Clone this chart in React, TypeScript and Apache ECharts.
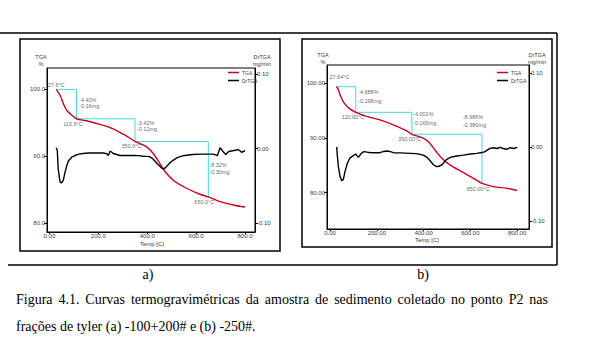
import React, { useEffect, useRef } from "react";
import * as echarts from "echarts";

// ---------- data: chart a) fraction -100+200# ----------
const tgaA: number[][] = [
  [27.6, 100.0], [43, 99.15], [56.5, 97.9], [70, 96.9], [91, 96.15], [110.9, 95.6],
  [152, 95.3], [207, 94.75], [261, 94.1], [316, 93.0], [350, 92.2], [398, 91.4],
  [425, 90.4], [452, 88.9], [473, 87.7], [507, 86.4], [561, 85.2], [616, 84.3],
  [650, 83.9], [698, 83.2], [752, 82.7], [800, 82.4],
];
const dtgA: number[][] = [
  [27, 0.001], [32, -0.002], [36, -0.028], [43, -0.044], [47, -0.046], [52, -0.045],
  [57, -0.042], [63, -0.033], [70, -0.024], [77, -0.017], [91, -0.0117], [104, -0.0094],
  [120, -0.0075], [138, -0.0067], [160, -0.006], [179, -0.0058], [200, -0.006], [220, -0.0058],
  [235, -0.007], [241, -0.0094], [248, -0.0036], [255, -0.005], [261, -0.0067], [275, -0.008],
  [288, -0.0094], [310, -0.0094], [343, -0.0094], [365, -0.0095], [384, -0.0103], [400, -0.0105],
  [411, -0.011], [422, -0.0135], [432, -0.017], [440, -0.02], [449, -0.0228], [458, -0.026],
  [466, -0.0273], [473, -0.026], [480, -0.0237], [493, -0.019], [507, -0.0157], [525, -0.012],
  [541, -0.0103], [560, -0.009], [588, -0.008], [615, -0.0075], [643, -0.0076], [670, -0.0076],
  [680, -0.0085], [687, -0.0094], [693, -0.004], [698, 0.001], [703, -0.001], [709, -0.0036],
  [716, -0.006], [722, -0.008], [730, -0.005], [738, -0.0036], [750, -0.003], [765, -0.002],
  [772, -0.0013], [779, -0.003], [786, -0.005], [793, -0.004], [800, -0.003],
];
const stepA: number[][] = [
  [27.6, 100.0], [110.9, 100.0], [110.9, 95.6], [350, 95.6], [350, 92.2], [650, 92.2], [650, 83.9],
];
const notesA: [number, number, string][] = [
  [27.6, 100.0, "27.6°C"],
  [110.9, 95.6, "110.9°C"],
  [350, 92.2, "350.0°C"],
  [650, 83.9, "650.0°C"],
  [110.9, 100.0, "-4.40%\n-0.16mg"],
  [350, 95.6, "-3.42%\n-0.12mg"],
  [650, 92.2, "-8.32%\n-0.30mg"],
];

// ---------- data: chart b) fraction -250# ----------
const tgaB: number[][] = [
  [27.64, 99.38], [35, 98.9], [43, 97.86], [57, 96.6], [78, 95.56], [110, 94.7],
  [157, 93.97], [214, 93.3], [271, 92.4], [328, 91.3], [350, 90.68], [392, 90.1],
  [421, 89.3], [449, 87.8], [478, 86.3], [513, 85.1], [570, 83.7], [627, 82.3],
  [650, 81.7], [699, 81.1], [756, 80.8], [801, 80.4],
];
const dtgB: number[][] = [
  [28.5, 0.0], [31, -0.011], [35.6, -0.0266], [43, -0.04], [50, -0.0455], [57, -0.0437],
  [64, -0.0333], [74, -0.022], [85, -0.015], [93, -0.013], [110, -0.0095], [116, -0.012],
  [121, -0.0139], [126, -0.012], [131, -0.0095], [143, -0.0063], [160, -0.007], [178, -0.0077],
  [214, -0.0077], [230, -0.006], [242, -0.0054], [255, -0.006], [271, -0.0077], [300, -0.008],
  [342, -0.0086], [370, -0.009], [399, -0.011], [415, -0.014], [428, -0.0185], [442, -0.024],
  [456, -0.0266], [466, -0.026], [478, -0.0243], [499, -0.0167], [520, -0.0135], [542, -0.0122],
  [570, -0.011], [600, -0.0095], [627, -0.0086], [650, -0.0075], [663, -0.0063], [684, -0.0018],
  [700, -0.001], [715, -0.002], [727, -0.0005], [740, -0.002], [756, -0.0031], [770, -0.001],
  [785, -0.002], [801, -0.0005],
];
const stepB: number[][] = [
  [27.64, 99.38], [110, 99.38], [110, 94.7], [350, 94.7], [350, 90.68], [650, 90.68], [650, 81.7],
];
const notesB: [number, number, string][] = [
  [27.64, 99.38, "27.64°C"],
  [110, 94.7, "110.00°C"],
  [350, 90.68, "350.00°C"],
  [650, 81.7, "650.00°C"],
  [110, 99.38, "-4.688%\n-0.198mg"],
  [350, 94.7, "-4.001%\n-0.169mg"],
  [650, 90.68, "-8.986%\n-0.380mg"],
];

// tick values / labels
const xTicks = [0, 200, 400, 600, 800];
const xLabelsA = ["0.00", "200.0", "400.0", "600.0", "800.0"];
const xLabelsB = ["0.00", "200.00", "400.00", "600.00", "800.00"];
const yTicks = [80, 90, 100];
const yLabelsA = ["80.0", "90.0", "100.0"];
const yLabelsB = ["80.00", "90.00", "100.00"];
const rTicks = [-0.1, 0, 0.1];
const rLabels = ["-0.10", "0.00", "0.10"];

const captionLine1 =
  "Figura 4.1. Curvas termogravimétricas da amostra de sedimento coletado no ponto P2 nas";
const captionLine2 = "frações de tyler (a) -100+200# e (b) -250#.";

// ---------- layout (kept apart from data) ----------
const noteLayoutA = [
  { offset: [0, -4.5], align: "center" },
  { offset: [-3.6, 5.3], align: "center" },
  { offset: [-3.5, 4.8], align: "center" },
  { offset: [-4, 5.2], align: "center" },
  { offset: [2.5, 13.7], align: "left" },
  { offset: [2, 7.3], align: "left" },
  { offset: [1, 27], align: "left" },
];
const noteLayoutB = [
  { offset: [3, -10], align: "center" },
  { offset: [-2.7, 4.7], align: "center" },
  { offset: [-2.3, 4.7], align: "center" },
  { offset: [-4, 5.6], align: "center" },
  { offset: [2.3, 9.8], align: "left" },
  { offset: [1.2, 6], align: "left" },
  { offset: [-19.3, -13.3], align: "left" },
];

const RED = "#c8001e";
const CYAN = "#40d8e6";
const TXT = "#3a3a3a";
const SANS = "Liberation Sans";
const SERIF = "Liberation Serif";

function labelFmt(ticks: number[], labels: string[]) {
  return (v: number) => {
    for (let i = 0; i < ticks.length; i++) if (Math.abs(v - ticks[i]) < 1e-6) return labels[i];
    return "";
  };
}

function xAxisCfg(grid: number, min: number, max: number, labels: string[], margin: number) {
  return {
    type: "value", gridIndex: grid, min, max,
    axisLine: { show: true, onZero: false, lineStyle: { color: "#000", width: 1 } },
    axisTick: { show: true, customValues: xTicks, length: 2, lineStyle: { color: "#000" } },
    axisLabel: {
      customValues: xTicks, formatter: labelFmt(xTicks, labels), fontSize: 6,
      fontFamily: SANS, color: TXT, margin,
    },
    splitLine: { show: false },
  };
}
function yAxisCfg(grid: number, min: number, max: number, pos: string, ticks: number[], labels: string[], margin: number) {
  return {
    type: "value", gridIndex: grid, min, max, position: pos,
    axisLine: { show: true, onZero: false, lineStyle: { color: "#000", width: 1 } },
    axisTick: { show: true, customValues: ticks, length: 3, lineStyle: { color: "#000" } },
    axisLabel: {
      customValues: ticks, formatter: labelFmt(ticks, labels), fontSize: 6,
      fontFamily: SANS, color: TXT, margin,
    },
    splitLine: { show: false },
  };
}

const SYM = 2;
function noteSeries(x: number, y: number, notes: [number, number, string][], layout: any[], lh: number) {
  return {
    type: "scatter", xAxisIndex: x, yAxisIndex: y, symbolSize: SYM,
    itemStyle: { color: "rgba(0,0,0,0)" }, silent: true, z: 5,
    data: notes.map((n, i) => ({
      value: [n[0], n[1]], name: n[2],
      label: {
        position: [layout[i].offset[0] + SYM / 2, layout[i].offset[1] + SYM / 2],
        align: layout[i].align,
      },
    })),
    label: {
      show: true, formatter: (p: any) => p.name, fontSize: 5.5,
      fontFamily: SANS, color: TXT, verticalAlign: "middle", lineHeight: lh,
    },
    labelLayout: { hideOverlap: false },
  };
}

function txt(x: number, y: number, text: string, size: number, family = SANS, align = "center", color = TXT) {
  return {
    type: "text", x, y, silent: true,
    style: {
      text, fontSize: size, fontFamily: family, fill: color,
      align, textAlign: align, verticalAlign: "middle", textVerticalAlign: "middle",
    },
  };
}

function captionElements() {
  const els: any[] = [];
  const canvas = document.createElement("canvas");
  const ctx = canvas.getContext("2d")!;
  const size = 14;
  ctx.font = `${size}px "${SERIF}"`;
  const words = captionLine1.split(" ");
  const widths = words.map((w) => ctx.measureText(w).width);
  const left = 16, right = 548;
  const total = widths.reduce((a, b) => a + b, 0);
  const gap = (right - left - total) / (words.length - 1);
  let x = left;
  words.forEach((w, i) => {
    els.push(txt(x, 299, w, size, SERIF, "left", "#000"));
    x += widths[i] + gap;
  });
  els.push(txt(left, 326, captionLine2, size, SERIF, "left", "#000"));
  return els;
}

export default function App() {
  const ref = useRef<HTMLDivElement>(null);
  useEffect(() => {
    if (!ref.current) return;
    const chart = echarts.init(ref.current, undefined, { renderer: "svg" });
    const legendCommon = {
      data: ["TGA", "DrTGA"], orient: "vertical", icon: "rect", itemWidth: 11, itemHeight: 1.5,
      itemGap: 3, padding: 0, textStyle: { fontSize: 5, fontFamily: SANS, color: TXT, padding: [0, 0, 0, -2] },
      selectedMode: false,
    };
    const option: any = {
      animation: false,
      backgroundColor: "#fff",
      grid: [
        { left: 47, top: 68, width: 208, height: 164, show: true, borderColor: "#000", borderWidth: 1 },
        { left: 327, top: 65, width: 202, height: 164, show: true, borderColor: "#000", borderWidth: 1 },
      ],
      legend: [
        { ...legendCommon, left: 228, top: 70 },
        { ...legendCommon, left: 497, top: 70 },
      ],
      xAxis: [
        xAxisCfg(0, -10, 841, xLabelsA, 1),
        xAxisCfg(1, -13, 851, xLabelsB, 1),
      ],
      yAxis: [
        yAxisCfg(0, 78.65, 103.2, "left", yTicks, yLabelsA, 2),
        yAxisCfg(0, -0.112, 0.108, "right", rTicks, rLabels, 2),
        yAxisCfg(1, 73.36, 103.35, "left", yTicks, yLabelsB, 2),
        yAxisCfg(1, -0.1108, 0.1108, "right", rTicks, rLabels, 2),
      ],
      series: [
        { name: "TGA", type: "line", xAxisIndex: 0, yAxisIndex: 0, data: tgaA, showSymbol: false, smooth: 0.3, lineStyle: { color: RED, width: 1.4 }, itemStyle: { color: RED } },
        { name: "DrTGA", type: "line", xAxisIndex: 0, yAxisIndex: 1, data: dtgA, showSymbol: false, lineStyle: { color: "#000", width: 1.4 }, itemStyle: { color: "#000" } },
        { name: "stepA", type: "line", xAxisIndex: 0, yAxisIndex: 0, data: stepA, showSymbol: false, lineStyle: { color: CYAN, width: 1 }, z: 1 },
        noteSeries(0, 0, notesA, noteLayoutA, 6.5),
        { name: "TGA", type: "line", xAxisIndex: 1, yAxisIndex: 2, data: tgaB, showSymbol: false, smooth: 0.3, lineStyle: { color: RED, width: 1.4 }, itemStyle: { color: RED } },
        { name: "DrTGA", type: "line", xAxisIndex: 1, yAxisIndex: 3, data: dtgB, showSymbol: false, lineStyle: { color: "#000", width: 1.4 }, itemStyle: { color: "#000" } },
        { name: "stepB", type: "line", xAxisIndex: 1, yAxisIndex: 2, data: stepB, showSymbol: false, lineStyle: { color: CYAN, width: 1 }, z: 1 },
        noteSeries(1, 2, notesB, noteLayoutB, 8.5),
      ],
      graphic: [
        { type: "line", silent: true, shape: { x1: 0, y1: 33, x2: 557, y2: 33 }, style: { stroke: "#000", lineWidth: 1.5 } },
        { type: "line", silent: true, shape: { x1: 557, y1: 33, x2: 557, y2: 265 }, style: { stroke: "#000", lineWidth: 1.5 } },
        { type: "line", silent: true, shape: { x1: 8, y1: 265, x2: 557, y2: 265 }, style: { stroke: "#000", lineWidth: 1.5 } },
        { type: "rect", silent: true, shape: { x: 20, y: 39, width: 260, height: 212 }, style: { fill: "none", stroke: "#000", lineWidth: 1.5 } },
        { type: "rect", silent: true, shape: { x: 302, y: 39, width: 250, height: 208 }, style: { fill: "none", stroke: "#000", lineWidth: 1.5 } },
        txt(41, 57, "TGA", 5.5), txt(41, 63.5, "%", 5.5),
        txt(262, 57, "DrTGA", 5.5), txt(262, 63.5, "mg/min", 5.5),
        txt(152, 243.5, "Temp [C]", 6),
        txt(323, 55, "TGA", 5.5), txt(323, 62, "%", 5.5),
        txt(537, 55, "DrTGA", 5.5), txt(537, 62, "mg/min", 5.5),
        txt(427, 240, "Temp [C]", 6),
        txt(148, 274, "a)", 14, SERIF, "center", "#000"),
        txt(423, 274, "b)", 14, SERIF, "center", "#000"),
        ...captionElements(),
      ],
    };
    chart.setOption(option);
    return () => chart.dispose();
  }, []);
  return (
    <div
      ref={ref}
      style={{ position: "absolute", left: 0, top: 0, width: 611, height: 340, background: "#fff" }}
    />
  );
}
